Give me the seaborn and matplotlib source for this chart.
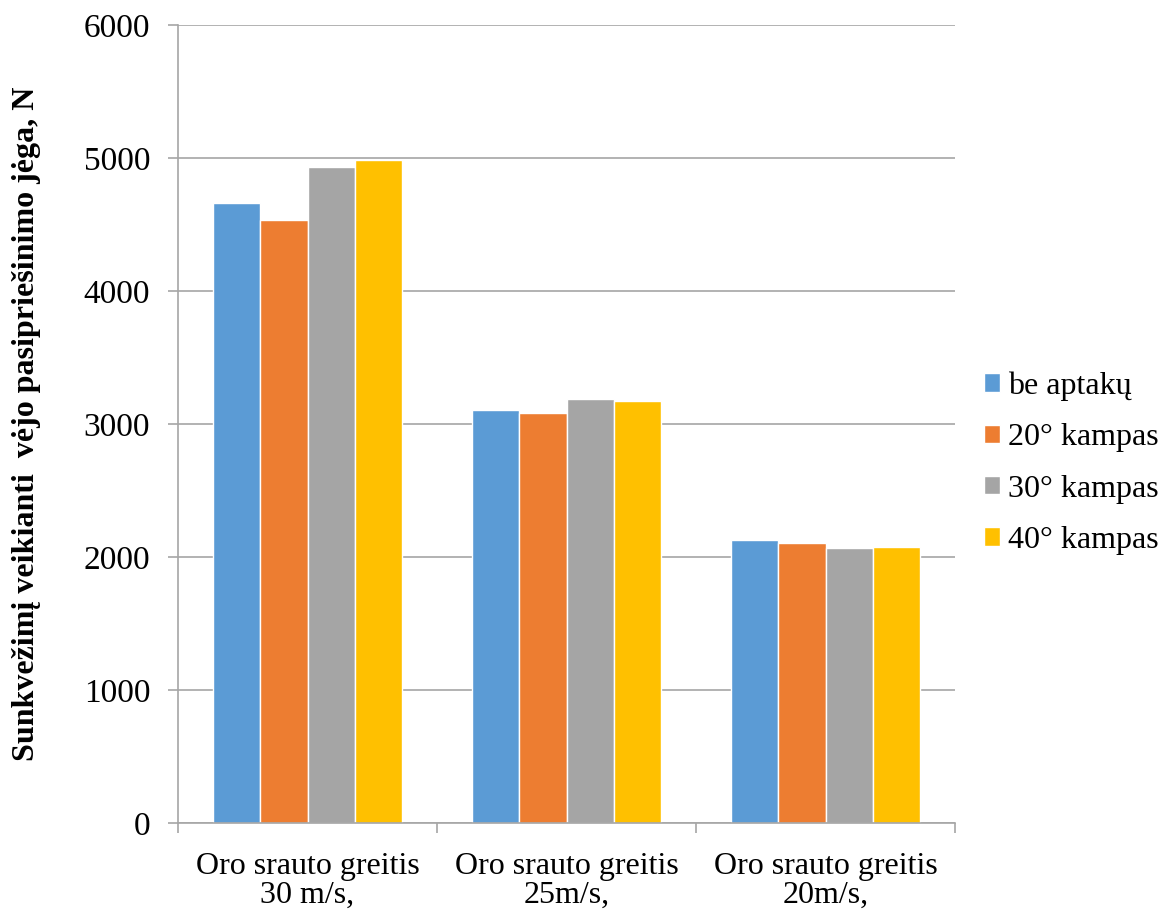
import matplotlib
matplotlib.use("Agg")
import matplotlib.pyplot as plt
import numpy as np
import pandas as pd
import seaborn as sns

categories = ["Oro srauto greitis\n30 m/s,", "Oro srauto greitis\n25m/s,", "Oro srauto greitis\n20m/s,"]
series = ["be aptakų", "20° kampas", "30° kampas", "40° kampas"]
be_aptaku = [4660, 3108, 2130]
kampas_20 = [4537, 3081, 2105]
kampas_30 = [4931, 3186, 2065]
kampas_40 = [4986, 3176, 2073]
colors = ["#5B9BD5", "#ED7D31", "#A5A5A5", "#FFC000"]

df = pd.DataFrame({
    "cat": np.repeat(categories, 4),
    "series": series * 3,
    "value": [v for vals in zip(be_aptaku, kampas_20, kampas_30, kampas_40) for v in vals],
})

sns.set_theme(style="white")
plt.rcParams["font.family"] = ["Liberation Serif", "DejaVu Serif"]
plt.rcParams["text.color"] = "black"
plt.rcParams["axes.labelcolor"] = "black"
plt.rcParams["xtick.labelcolor"] = "black"
plt.rcParams["ytick.labelcolor"] = "black"

fig = plt.figure(figsize=(11.61, 9.11), dpi=100)
ax = fig.add_axes([178 / 1161, 88 / 911, 777 / 1161, 798 / 911])

sns.barplot(data=df, x="cat", y="value", hue="series", hue_order=series,
            palette=colors, width=0.726, saturation=1, ax=ax, legend=True)

ax.set_ylim(0, 6000)
ax.set_xlim(-0.5, 2.5)
ax.set_yticks(range(0, 6001, 1000))
ax.yaxis.grid(True, color="#a6a6a6", linewidth=1.2)
ax.set_axisbelow(True)
for side in ["top", "right"]:
    ax.spines[side].set_visible(False)
for side in ["left", "bottom"]:
    ax.spines[side].set_color("#a6a6a6")
    ax.spines[side].set_linewidth(1.2)

ax.tick_params(axis="y", which="major", length=7, width=1.2, color="#a6a6a6",
               labelsize=24, pad=13, left=True, labelcolor="black")
ax.tick_params(axis="x", which="major", length=0, labelsize=23, pad=21, labelcolor="black")
ax.set_xticks([-0.5, 0.5, 1.5, 2.5], minor=True)
ax.tick_params(axis="x", which="minor", length=7, width=1.2, color="#a6a6a6", bottom=True)
ax.set_xlabel("")
ax.set_ylabel("Sunkvežimį veikianti  vėjo pasipriešinimo jėga, N",
              fontsize=23, fontweight="bold", labelpad=31, color="black")
for lbl in ax.get_xticklabels():
    lbl.set_linespacing(1.0)

leg = ax.legend(loc="center left", bbox_to_anchor=(1.0, 0.451), frameon=False,
                fontsize=23, handlelength=0.5, handleheight=0.5, handletextpad=0.25,
                labelspacing=0.7)
for t in leg.get_texts():
    t.set_color("black")

fig.savefig("out.png", dpi=100)
